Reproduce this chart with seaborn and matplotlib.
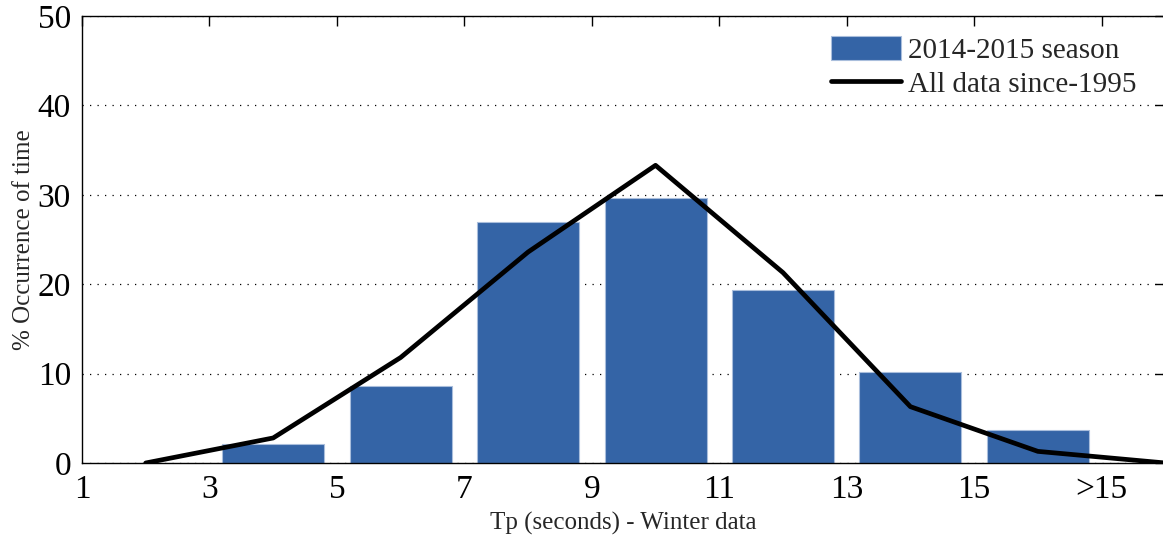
import matplotlib
matplotlib.use("Agg")
import matplotlib.pyplot as plt
import seaborn as sns

# 2014-2015 season (bars)
season_tp = [4, 6, 8, 10, 12, 14, 16]
season_pct = [2.1, 8.6, 27.0, 29.6, 19.4, 10.2, 3.7]

# all data since 1995 (line)
all_tp = [2, 4, 6, 8, 10, 12, 14, 16, 18]
all_pct = [0.0, 2.8, 11.8, 23.6, 33.3, 21.3, 6.3, 1.3, 0.0]

xticks = [1, 3, 5, 7, 9, 11, 13, 15, 17]
xticklabels = ["1", "3", "5", "7", "9", "11", "13", "15", ">15"]

sns.set_style("white")
plt.rcParams["font.family"] = ["Liberation Serif", "DejaVu Serif"]

fig = plt.figure(figsize=(11.63, 5.35), dpi=100)
ax = fig.add_axes([0.0705, 0.1346, 0.9315, 0.8354])

sns.barplot(x=season_tp, y=season_pct, native_scale=True, color="#3464a6",
            saturation=1, width=0.8, edgecolor="#a9bedc", linewidth=0.8,
            label="2014-2015 season", ax=ax)
sns.lineplot(x=all_tp, y=all_pct, color="black", linewidth=3.4,
             label="All data since-1995", ax=ax)

ax.set_xlim(1, 18)
ax.set_ylim(0, 50)
ax.set_xticks(xticks)
ax.set_xticklabels(xticklabels)
ax.set_yticks([0, 10, 20, 30, 40, 50])
ax.yaxis.grid(True, linestyle=(0, (1, 5)), color="black", linewidth=0.9)
ax.set_axisbelow(True)

ax.tick_params(direction="in", top=True, right=True, length=7, width=1,
               labelsize=24, colors="black", pad=8)
for side in ["left", "bottom", "top"]:
    ax.spines[side].set_color("black")
    ax.spines[side].set_linewidth(1)
ax.spines["right"].set_visible(False)

ax.set_xlabel("Tp (seconds) - Winter data", fontsize=18, labelpad=5)
ax.set_ylabel("% Occurrence of time", fontsize=18, labelpad=2)

# bars first in the legend, like the original
handles, labels = ax.get_legend_handles_labels()
order = [labels.index("2014-2015 season"), labels.index("All data since-1995")]
ax.legend([handles[i] for i in order], [labels[i] for i in order],
          loc="upper right", bbox_to_anchor=(0.99, 0.995), frameon=False,
          fontsize=21, handlelength=2.4, handleheight=0.9,
          handletextpad=0.25, labelspacing=0.2, borderaxespad=0.2)

fig.savefig("out.png", dpi=100)
